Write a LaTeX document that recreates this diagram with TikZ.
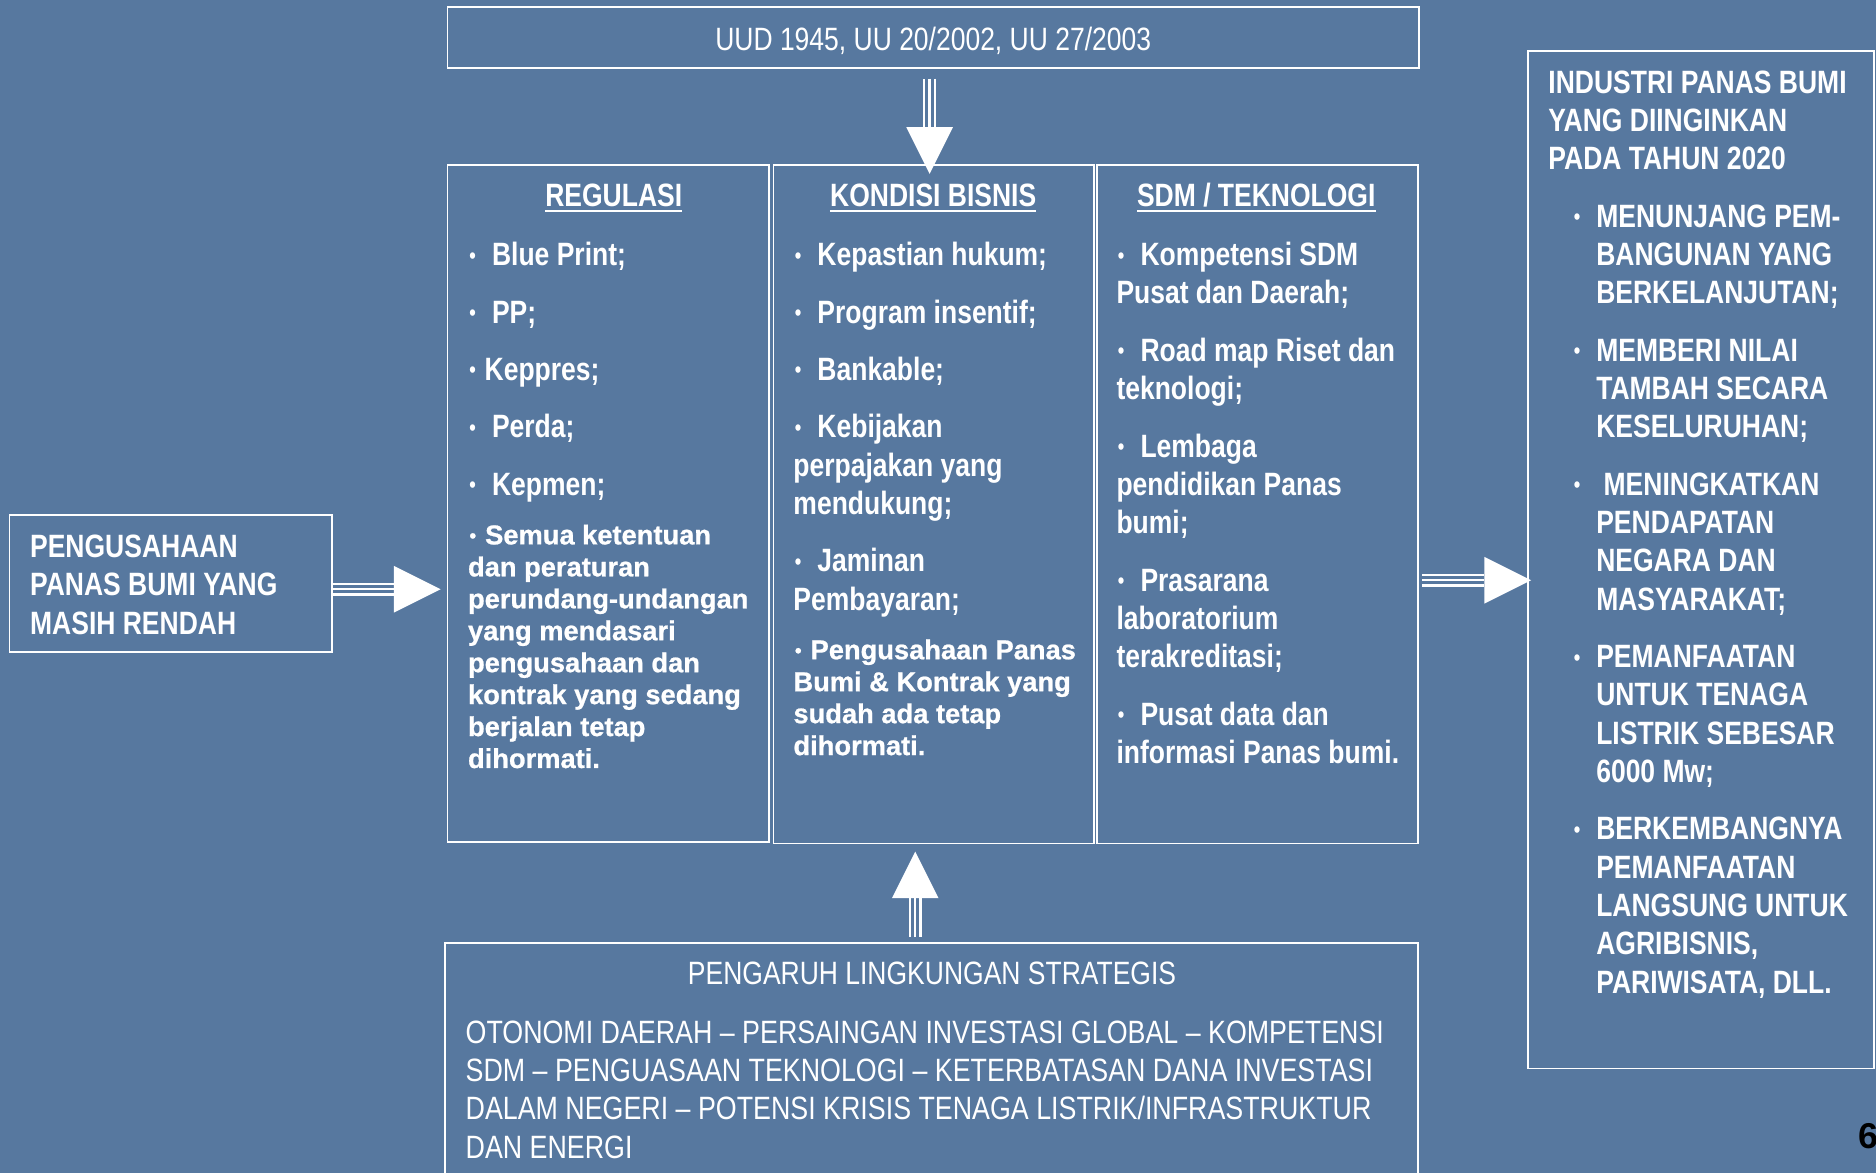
\documentclass[tikz,border=0pt]{standalone}
\usepackage{fontspec}
\setmainfont{Liberation Sans}
\newfontfamily\narrowfont[FakeStretch=0.82]{Liberation Sans}
\newfontfamily\widerfont[FakeStretch=0.83]{Liberation Sans}
\newfontfamily\heavyfont[FakeBold=0.8]{Liberation Sans Bold}
\usetikzlibrary{calc}

\definecolor{slate}{RGB}{87,120,159}

% text settings
\newcommand\colfont{\fontsize{27}{32}\selectfont\narrowfont\bfseries\setlength\parskip{16pt}}
\newcommand\plainfont{\fontsize{27}{32}\selectfont\narrowfont}
\newcommand\envfont{\fontsize{27}{32}\selectfont\widerfont}
\newcommand\notefont{\fontsize{22.8}{26.7}\selectfont\heavyfont}
\newsavebox\bulbox
\newcommand\smallbul{\sbox\bulbox{\textbullet}\makebox[\wd\bulbox]{\raisebox{0.08em}{\scalebox{0.7}{\textbullet}}}}
\newcommand\bul{\smallbul\ \ }
\newcommand\sbul{\smallbul\ }
\newcommand\goalitem{\par\hangindent=40pt\hangafter=1\noindent\hspace*{20pt}\makebox[20pt][l]{\smallbul}}

% block arrow: triple-line shaft and a solid triangular head
\newcommand\blockarrow[2]{%
  \coordinate (ba-b) at ($(#2)!39pt!(#1)$);
  \draw[white, line width=11pt] (#1) -- (ba-b);
  \draw[slate, line width=7pt] (#1) -- (ba-b);
  \draw[white, line width=2pt] (#1) -- (ba-b);
  \fill[white] (#2) -- ($(ba-b)!19.5pt!90:(#2)$) -- ($(ba-b)!19.5pt!-90:(#2)$) -- cycle;
}

\tikzset{
  frame/.style={draw=white, line width=1.5pt, inner sep=0pt, rectangle},
  txt/.style={text=white, inner sep=0pt, anchor=base west},
  ctxt/.style={text=white, inner sep=0pt, anchor=base},
  uline/.style={white, line width=1.6pt},
}

\begin{document}
\begin{tikzpicture}[x=1pt,y=-1pt]
\clip (0,0) rectangle (1568,980);
\fill[slate] (0,0) rectangle (1568,980);

% frames
\node[frame, minimum width=812pt, minimum height=51pt] (law) at (780,31.5) {};
\node[frame, minimum width=269.6pt, minimum height=114.5pt] (peng) at (142.8,487.75) {};
\node[frame, minimum width=269pt, minimum height=566pt] (reg) at (508.5,421) {};
\node[frame, minimum width=268pt, minimum height=567pt] (kon) at (780.5,421.5) {};
\node[frame, minimum width=268pt, minimum height=567pt] (sdm) at (1051,421.5) {};
\node[frame, minimum width=289pt, minimum height=850.5pt] (goal) at (1421.5,467.75) {};
\node[frame, minimum width=813pt, minimum height=222pt] (env) at (778.5,899) {};

% top: legal basis
\node[ctxt] (lawtxt) at (780,42) {\plainfont UUD 1945, UU 20/2002, UU 27/2003};

% left: starting condition
\node[txt] (pengtxt) at (25,466) {\parbox[t]{250pt}{\colfont
PENGUSAHAAN\\ PANAS BUMI YANG\\ MASIH RENDAH}};

% column headers
\node[ctxt] (hreg) at (513,173) {\colfont REGULASI};
\node[ctxt] (hkon) at (780,173) {\colfont KONDISI BISNIS};
\node[ctxt] (hsdm) at (1050,173) {\colfont SDM / TEKNOLOGI};
\draw[uline] ([yshift=-3.5pt]hreg.base west) -- ([yshift=-3.5pt]hreg.base east);
\draw[uline] ([yshift=-3.5pt]hkon.base west) -- ([yshift=-3.5pt]hkon.base east);
\draw[uline] ([yshift=-3.5pt]hsdm.base west) -- ([yshift=-3.5pt]hsdm.base east);

% column contents
\node[txt] (regtxt) at (391,222) {\parbox[t]{250pt}{\colfont
\bul Blue Print;\par
\bul PP;\par
\sbul Keppres;\par
\bul Perda;\par
\bul Kepmen;}};
\node[txt] (regnote) at (391,455) {\parbox[t]{250pt}{\notefont
\sbul Semua ketentuan\\ dan peraturan\\ perundang-undangan\\ yang mendasari\\ pengusahaan dan\\ kontrak yang sedang\\ berjalan tetap\\ dihormati.}};

\node[txt] (kontxt) at (663,222) {\parbox[t]{250pt}{\colfont
\bul Kepastian hukum;\par
\bul Program insentif;\par
\bul Bankable;\par
\bul Kebijakan\\ perpajakan yang\\ mendukung;\par
\bul Jaminan\\ Pembayaran;}};
\node[txt] (konnote) at (663,551) {\parbox[t]{250pt}{\notefont
\sbul Pengusahaan Panas\\ Bumi \& Kontrak yang\\ sudah ada tetap\\ dihormati.}};

\node[txt] (sdmtxt) at (933,222) {\parbox[t]{260pt}{\colfont
\bul Kompetensi SDM\\ Pusat dan Daerah;\par
\bul Road map Riset dan\\ teknologi;\par
\bul Lembaga\\ pendidikan Panas\\ bumi;\par
\bul Prasarana\\ laboratorium\\ terakreditasi;\par
\bul Pusat data dan\\ informasi Panas bumi.}};

% right: target
\node[txt] (goaltxt) at (1294,78) {\parbox[t]{280pt}{\colfont
INDUSTRI PANAS BUMI\\ YANG DIINGINKAN\\ PADA TAHUN 2020
\goalitem MENUNJANG PEM-\\ BANGUNAN YANG\\ BERKELANJUTAN;
\goalitem MEMBERI NILAI\\ TAMBAH SECARA\\ KESELURUHAN;
\goalitem \ MENINGKATKAN\\ PENDAPATAN\\ NEGARA DAN\\ MASYARAKAT;
\goalitem PEMANFAATAN\\ UNTUK TENAGA\\ LISTRIK SEBESAR\\ 6000 Mw;
\goalitem BERKEMBANGNYA\\ PEMANFAATAN\\ LANGSUNG UNTUK\\ AGRIBISNIS,\\ PARIWISATA, DLL.}};

% bottom: strategic environment
\node[ctxt] (envhead) at (779,823) {\plainfont PENGARUH LINGKUNGAN STRATEGIS};
\node[txt] (envtxt) at (389,872) {\parbox[t]{800pt}{\envfont
OTONOMI DAERAH – PERSAINGAN INVESTASI GLOBAL – KOMPETENSI\\
SDM – PENGUASAAN TEKNOLOGI – KETERBATASAN DANA INVESTASI\\
DALAM NEGERI – POTENSI KRISIS TENAGA LISTRIK/INFRASTRUKTUR\\
DAN ENERGI}};

% page number
\node[anchor=base west, inner sep=0pt, text=black] (pg) at (1553,960) {\fontsize{30}{36}\selectfont\bfseries 6};

% arrows
\coordinate (dn-s) at ($(law.south)+(-3,8)$);
\coordinate (dn-t) at ($(kon.north)+(-3.5,8)$);
\coordinate (lf-s) at ($(peng.east)+(0,4.75)$);
\coordinate (lf-t) at ($(reg.west)+(-5,71.5)$);
\coordinate (rt-s) at ($(sdm.east)+(3,63.5)$);
\coordinate (rt-t) at ($(goal.west)+(3.5,17.25)$);
\coordinate (up-s) at ($(env.north)+(-13.5,-4)$);
\coordinate (up-t) at ($(kon.south)+(-15.5,6)$);
\blockarrow{dn-s}{dn-t}
\blockarrow{lf-s}{lf-t}
\blockarrow{rt-s}{rt-t}
\blockarrow{up-s}{up-t}
\end{tikzpicture}
\end{document}
